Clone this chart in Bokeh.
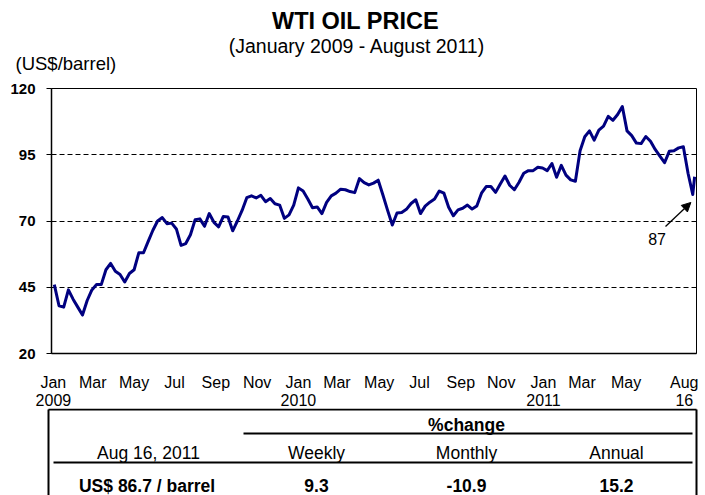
import numpy as np
import pandas as pd
from bokeh.plotting import figure
from bokeh.layouts import column
from bokeh.models import Range1d, FixedTicker, LinearAxis, Grid, Arrow, NormalHead
from bokeh.core.properties import value
from bokeh.embed import file_html
from bokeh.resources import INLINE

# ---------------- data ----------------
title = "WTI OIL PRICE"
subtitle = "(January 2009 - August 2011)"
unit_label = "(US$/barrel)"

week_start = "2009-01-02"          # Friday closes, one per week
weekly_price = [
    46, 38, 37.5, 44, 40.5, 37.5, 34.5, 40, 44, 46,
    46, 51.6, 54, 51, 49.8, 47, 50.2, 51.6, 58, 58,
    62.3, 66.5, 70, 71.3, 69, 69.2, 67, 60.8, 61.5, 64.8,
    70.5, 70.8, 68, 72.8, 69.5, 67.8, 71.7, 71.5, 66.3, 70,
    74, 78.8, 79.5, 78.7, 79.7, 77.3, 78.5, 76.5, 76, 71,
    72.3, 76, 82.5, 81.3, 78.3, 75, 75.3, 72.8, 77, 79.5,
    80.5, 82, 81.8, 81.1, 80.7, 86, 84.5, 83.6, 84.3, 85.4,
    79.8, 74, 68.5, 73, 73.2, 74.4, 76.6, 78, 72.8, 75.6,
    77.1, 78.3, 81.3, 80.5, 75.2, 72, 74.2, 74.8, 76, 74.5,
    75.7, 80.5, 83, 83, 80.8, 84, 87, 83.5, 81.8, 84.6,
    88, 89, 89, 90.3, 90, 89, 91.7, 86.5, 91, 87.3,
    85.5, 85, 96.5, 101.8, 104, 100.5, 104.3, 105.8, 109.5, 108,
    110.2, 113.2, 104, 102.2, 99.4, 99.2, 101.9, 100.1, 97, 94.5,
    92, 96.3, 96.5, 97.6, 98, 88, 80,
]
last_date = "2011-08-16"
last_price = 86.7

y_ticks = [20, 45, 70, 95, 120]
grid_levels = [45, 70, 95, 120]
month_tick_dates = ["2009-01-01", "2009-03-02", "2009-05-01", "2009-07-01", "2009-09-01",
                    "2009-11-02", "2010-01-01", "2010-03-01", "2010-05-03", "2010-07-01",
                    "2010-09-01", "2010-11-01", "2011-01-03", "2011-03-01", "2011-05-05",
                    "2011-08-01"]
month_labels = ["Jan", "Mar", "May", "Jul", "Sep", "Nov", "Jan", "Mar", "May", "Jul",
                "Sep", "Nov", "Jan", "Mar", "May", "Aug"]
year_tick_dates = ["2009-01-01", "2010-01-01", "2011-01-03", "2011-08-01"]
year_labels = ["2009", "2010", "2011", "16"]

annot_text = "87"

table_date = "Aug 16, 2011"
table_group = "%change"
table_headers = ["Weekly", "Monthly", "Annual"]
table_price = "US$  86.7 / barrel"
table_changes = ["9.3", "-10.9", "15.2"]

# ---------------- helpers ----------------
FONT_NAME = "Liberation Sans"
FONT = value(FONT_NAME)
ORIGIN = "2009-01-01"


def bidx(d):
    return int(np.busday_count(ORIGIN, str(pd.Timestamp(d).date())))


dates = list(pd.date_range(week_start, periods=len(weekly_price), freq="7D")) + [pd.Timestamp(last_date)]
xs = [bidx(d) for d in dates]
ys = list(weekly_price) + [last_price]
last_i = xs[-1]

W = 705

# ---------------- header ----------------
h = figure(width=W, height=80, x_range=Range1d(0, W), y_range=Range1d(80, 0),
           output_backend="svg", toolbar_location=None, min_border=0,
           x_axis_type=None, y_axis_type=None, outline_line_color=None, frame_align=False)
h.text(x=[355], y=[20], text=[title], text_font=FONT, text_font_style="bold",
       text_font_size="23.5px", text_align="center", text_baseline="middle", text_color="black")
h.text(x=[356.5], y=[45], text=[subtitle], text_font=FONT,
       text_font_size="19.5px", text_align="center", text_baseline="middle", text_color="black")
h.text(x=[15], y=[63], text=[unit_label], text_font=FONT,
       text_font_size="18.5px", text_align="left", text_baseline="middle", text_color="black")

# ---------------- chart ----------------
p = figure(width=W, height=328, x_range=Range1d(-2, 685), y_range=Range1d(20, 120),
           output_backend="svg", toolbar_location=None,
           min_border_left=51, min_border_right=9, min_border_top=8, min_border_bottom=55,
           x_axis_type=None, y_axis_type=None, frame_align=False)
p.outline_line_color = "black"
p.outline_line_width = 1
p.background_fill_color = "white"

p.add_layout(Grid(dimension=1, ticker=FixedTicker(ticks=grid_levels),
                  grid_line_color="black", grid_line_dash="5 3", grid_line_width=1))

yax = LinearAxis(ticker=FixedTicker(ticks=y_ticks), major_tick_out=5, major_tick_in=0,
                 minor_tick_out=0, minor_tick_in=0, major_label_standoff=11,
                 major_label_text_font=FONT_NAME, major_label_text_font_style="bold",
                 major_label_text_font_size="15px", major_label_text_color="black",
                 axis_line_color="black", axis_line_width=1.5, major_tick_line_color="black")
p.add_layout(yax, "left")

m_ticks = [bidx(d) for d in month_tick_dates]
xax1 = LinearAxis(ticker=FixedTicker(ticks=m_ticks),
                  major_label_overrides={t: l for t, l in zip(m_ticks, month_labels)},
                  major_tick_out=0, major_tick_in=0, minor_tick_out=0, minor_tick_in=0,
                  major_label_standoff=20, major_label_text_font=FONT_NAME,
                  major_label_text_font_size="16px", major_label_text_color="black",
                  axis_line_color="black", axis_line_width=1.5)
p.add_layout(xax1, "below")

y_ticks_x = [bidx(d) for d in year_tick_dates]
xax2 = LinearAxis(ticker=FixedTicker(ticks=y_ticks_x),
                  major_label_overrides={t: l for t, l in zip(y_ticks_x, year_labels)},
                  major_tick_out=0, major_tick_in=0, minor_tick_out=0, minor_tick_in=0,
                  major_label_standoff=0, major_label_text_font=FONT_NAME,
                  major_label_text_font_size="16px", major_label_text_color="black",
                  axis_line_color=None)
p.add_layout(xax2, "below")

p.line(x=xs, y=ys, line_color="#000080", line_width=3, line_join="round")

tip_y = min(ys[-3:]) - 3
p.add_layout(Arrow(end=NormalHead(size=9, fill_color="black", line_color="black"),
                   x_start=last_i - 31, y_start=tip_y - 9.1, x_end=last_i - 4, y_end=tip_y,
                   line_color="black", line_width=1.3))
p.text(x=[last_i - 40], y=[tip_y - 13.8], text=[annot_text], text_font=FONT,
       text_font_size="16px", text_align="center", text_baseline="middle", text_color="black")

# ---------------- table ----------------
TH = 87
t = figure(width=W, height=TH, x_range=Range1d(0, W), y_range=Range1d(TH, 0),
           output_backend="svg", toolbar_location=None, min_border=0,
           x_axis_type=None, y_axis_type=None, outline_line_color=None, frame_align=False)
# box: top and sides
t.segment(x0=[48, 48, 696], y0=[1, 1, 1], x1=[696, 48, 696], y1=[1, TH, TH],
          line_color="black", line_width=2)
# rules
t.segment(x0=[243, 53], y0=[25, 54], x1=[692, 692], y1=[25, 54],
          line_color="black", line_width=2)
t.text(x=[466], y=[16], text=[table_group], text_font=FONT, text_font_style="bold",
       text_font_size="17.5px", text_align="center", text_baseline="middle", text_color="black")
col_x = [316, 466, 616]
t.text(x=[148] + col_x, y=[44] * 4, text=[table_date] + table_headers, text_font=FONT,
       text_font_size="17.5px", text_align="center", text_baseline="middle", text_color="black")
t.text(x=[149] + col_x, y=[77] * 4, text=[table_price] + table_changes, text_font=FONT,
       text_font_style="bold", text_font_size="17.5px", text_align="center",
       text_baseline="middle", text_color="black")

layout = column(h, p, t, spacing=0)
open("out.html", "w").write(file_html(layout, INLINE))
